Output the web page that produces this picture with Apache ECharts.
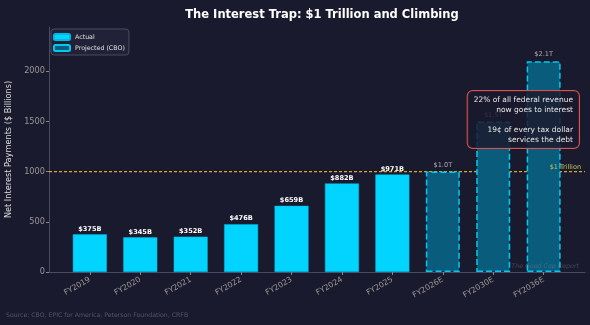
<!DOCTYPE html>
<html>
<head>
<meta charset="utf-8">
<script src="https://cdn.jsdelivr.net/npm/echarts@6/dist/echarts.min.js"></script>
<style>
  html, body { margin: 0; padding: 0; background: #1a1a2e; }
  #chart { width: 590px; height: 325px; }
</style>
</head>
<body>
<div id="chart"></div>
<script>
// fiscal years, actual first then CBO projections
const categories = ['FY2019', 'FY2020', 'FY2021', 'FY2022', 'FY2023', 'FY2024', 'FY2025', 'FY2026E', 'FY2030E', 'FY2036E']
const actualIdx = [0, 1, 2, 3, 4, 5, 6]
const actualValues = [375, 345, 352, 476, 659, 882, 971]
const projectedIdx = [7, 8, 9]
const projectedValues = [1000, 1500, 2100]
const yTicks = [0, 500, 1000, 1500, 2000]
const trillionLine = 1000

const xMin = -0.81
const xMax = 9.82

const chart = echarts.init(document.getElementById('chart'))

const pair = (idx, vals) => idx.map((x, i) => [x, vals[i]])
const fmt = v => v >= 1000 ? '$' + (v / 1000).toFixed(1) + 'T' : '$' + v + 'B'

chart.setOption({
  backgroundColor: '#1a1a2e',
  animation: false,
  textStyle: { fontFamily: 'DejaVu Sans' },
  title: {
    text: 'The Interest Trap: $1 Trillion and Climbing',
    left: 317,
    textAlign: 'center',
    top: 4,
    textStyle: { color: '#ffffff', fontSize: 11.5, fontWeight: 'bold', fontFamily: 'DejaVu Sans' }
  },
  legend: {
    orient: 'vertical',
    left: 51,
    top: 29,
    padding: [4, 4, 3, 2],
    itemGap: 3,
    itemWidth: 16,
    itemHeight: 6,
    backgroundColor: 'rgba(34,34,56,0.9)',
    borderColor: '#4a4a60',
    borderWidth: 1,
    borderRadius: 3,
    textStyle: { color: '#e0e0e0', fontSize: 6.3 },
    data: ['Actual', 'Projected (CBO)']
  },
  grid: { left: 49, right: 5, top: 27, bottom: 53, outerBoundsMode: 'none', containLabel: false },
  xAxis: {
    type: 'value',
    min: xMin,
    max: xMax,
    splitLine: { show: false },
    axisLine: { onZero: false, lineStyle: { color: '#4a4a64' } },
    axisTick: { customValues: categories.map((c, i) => i), length: 3, lineStyle: { color: '#888' } },
    axisLabel: {
      customValues: categories.map((c, i) => i),
      formatter: v => categories[Math.round(v)],
      rotate: 30,
      color: '#999',
      fontSize: 7.8,
      margin: 7
    }
  },
  yAxis: {
    type: 'value',
    min: 0,
    max: 2440,
    interval: 500,
    name: 'Net Interest Payments ($ Billions)',
    nameLocation: 'middle',
    nameGap: 28,
    nameTextStyle: { color: '#dddddd', fontSize: 8.2 },
    splitLine: { show: false },
    axisLine: { show: true, onZero: false, lineStyle: { color: '#4a4a64' } },
    axisTick: { show: true, length: 3, lineStyle: { color: '#888' } },
    axisLabel: {
      color: '#999',
      fontSize: 8.2,
      margin: 4,
      showMaxLabel: false,
      formatter: v => yTicks.includes(v) ? String(v) : ''
    }
  },
  series: [
    {
      // $1T reference line
      name: 'trillion',
      type: 'line',
      symbol: 'none',
      silent: true,
      z: 1,
      data: [[xMin, trillionLine], [xMax, trillionLine]],
      lineStyle: { color: '#d9a82a', type: [3, 2], width: 1.3, opacity: 1 },
      markLine: {
        silent: true,
        symbol: 'none',
        data: [{ yAxis: trillionLine }],
        lineStyle: { color: 'rgba(0,0,0,0)', width: 1 },
        label: {
          show: true,
          position: 'insideEndTop',
          formatter: '$1 Trillion',
          color: '#c2c256',
          fontSize: 6.5,
          distance: [4, 1]
        }
      }
    },
    {
      name: 'Actual',
      type: 'bar',
      barWidth: 34,
      barGap: '-100%',
      data: pair(actualIdx, actualValues),
      itemStyle: { color: '#00d4ff', borderColor: '#00b8e0', borderWidth: 0.5 },
      label: {
        show: true,
        position: 'top',
        distance: 2,
        color: '#ffffff',
        fontSize: 6.6,
        fontWeight: 'bold',
        formatter: p => fmt(p.value[1])
      }
    },
    {
      name: 'Projected (CBO)',
      type: 'bar',
      barWidth: 34,
      barGap: '-100%',
      data: pair(projectedIdx, projectedValues),
      itemStyle: { color: '#0a5c7c', borderColor: '#00c8f0', borderWidth: 1.5, borderType: 'dashed' },
      label: {
        show: true,
        position: 'top',
        distance: 3,
        color: '#aaaaaa',
        fontSize: 6.6,
        formatter: p => fmt(p.value[1])
      }
    }
  ],
  graphic: [
    {
      type: 'text',
      x: 579,
      y: 91,
      z: 100,
      style: {
        text: '22% of all federal revenue\nnow goes to interest\n\n19¢ of every tax dollar\nservices the debt',
        align: 'right',
        verticalAlign: 'top',
        fill: '#e8e8e8',
        font: '7.5px "DejaVu Sans"',
        lineHeight: 10,
        backgroundColor: 'rgba(26,26,46,0.85)',
        borderColor: '#d9534f',
        borderWidth: 1,
        borderRadius: 5,
        padding: [4, 6, 3, 6]
      }
    },
    {
      type: 'text',
      x: 579,
      y: 263,
      z: 100,
      style: {
        text: 'The Good Cop Report',
        align: 'right',
        fill: 'rgba(150,150,170,0.35)',
        font: 'italic 6.3px "DejaVu Sans"'
      }
    },
    {
      type: 'text',
      left: 6,
      top: 312,
      style: {
        text: 'Source: CBO, EPIC for America, Peterson Foundation, CRFB',
        fill: '#555566',
        font: '6.2px "DejaVu Sans"'
      }
    }
  ]
})
</script>
</body>
</html>
